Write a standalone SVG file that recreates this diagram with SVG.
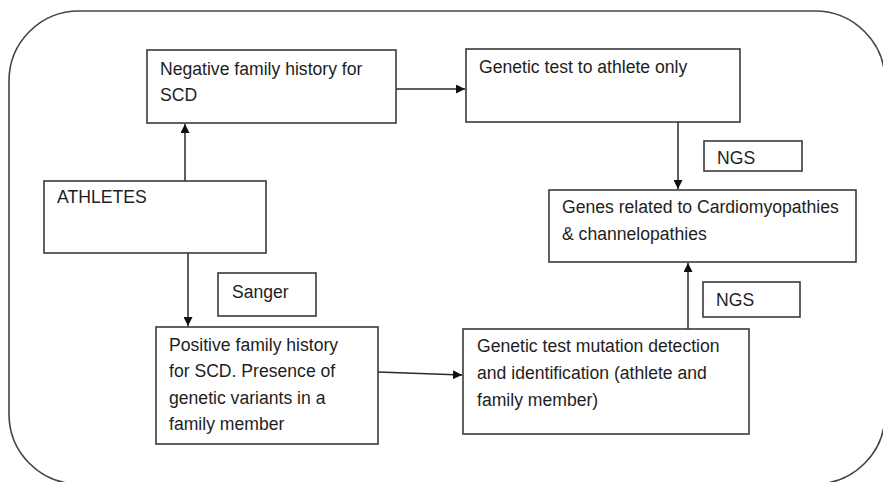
<svg xmlns="http://www.w3.org/2000/svg" width="883" height="482" viewBox="0 0 883 482">
<style>
.box{fill:#fff;stroke:#3a3a3a;stroke-width:1.6}
.frame{fill:#fff;stroke:#444;stroke-width:1.6}
.t{font-family:"Liberation Sans",Arial,sans-serif;font-size:17.6px;fill:#1e1e1e}
.c{fill:none;stroke:#2a2a2a;stroke-width:1.5}
</style>
<defs>
<marker id="ah" viewBox="0 0 10 10" refX="10" refY="5" markerWidth="9" markerHeight="9" markerUnits="userSpaceOnUse" orient="auto">
<path d="M0,0 L10,5 L0,10 z" fill="#111"/>
</marker>
</defs>
<rect width="883" height="482" fill="#fff"/>
<rect class="frame" x="9" y="11" width="876" height="473" rx="70" ry="70"/>
<g id="connectors">
<line class="c" x1="185" y1="181" x2="185" y2="124" marker-end="url(#ah)"/>
<line class="c" x1="188" y1="253" x2="188" y2="326" marker-end="url(#ah)"/>
<line class="c" x1="396" y1="89" x2="465" y2="89" marker-end="url(#ah)"/>
<line class="c" x1="378" y1="372" x2="462" y2="375" marker-end="url(#ah)"/>
<line class="c" x1="678" y1="122" x2="678" y2="189" marker-end="url(#ah)"/>
<line class="c" x1="688" y1="329" x2="688" y2="263" marker-end="url(#ah)"/>
</g>
<g id="neg">
<rect class="box" x="147" y="50" width="249" height="73"/>
<text class="t" x="160" y="75">Negative family history for</text>
<text class="t" x="160" y="101">SCD</text>
</g>
<g id="athletes">
<rect class="box" x="44" y="181" width="222" height="72"/>
<text class="t" x="57" y="203">ATHLETES</text>
</g>
<g id="sanger">
<rect class="box" x="218" y="273" width="98" height="43"/>
<text class="t" x="232" y="298">Sanger</text>
</g>
<g id="pos">
<rect class="box" x="156" y="327" width="222" height="117"/>
<text class="t" x="169" y="351">Positive family history</text>
<text class="t" x="169" y="377">for SCD. Presence of</text>
<text class="t" x="169" y="404">genetic variants in a</text>
<text class="t" x="169" y="430">family member</text>
</g>
<g id="gtest">
<rect class="box" x="466" y="49" width="274" height="73"/>
<text class="t" x="479" y="73">Genetic test to athlete only</text>
</g>
<g id="ngs1">
<rect class="box" x="704" y="141" width="98" height="30"/>
<text class="t" x="717" y="164">NGS</text>
</g>
<g id="genes">
<rect class="box" x="549" y="190" width="307" height="72"/>
<text class="t" x="562" y="213">Genes related to Cardiomyopathies</text>
<text class="t" x="562" y="240">&amp; channelopathies</text>
</g>
<g id="ngs2">
<rect class="box" x="703" y="282" width="97" height="35"/>
<text class="t" x="716" y="306">NGS</text>
</g>
<g id="mut">
<rect class="box" x="463" y="329" width="286" height="105"/>
<text class="t" x="477" y="352">Genetic test mutation detection</text>
<text class="t" x="477" y="379">and identification (athlete and</text>
<text class="t" x="477" y="406">family member)</text>
</g>
</svg>
